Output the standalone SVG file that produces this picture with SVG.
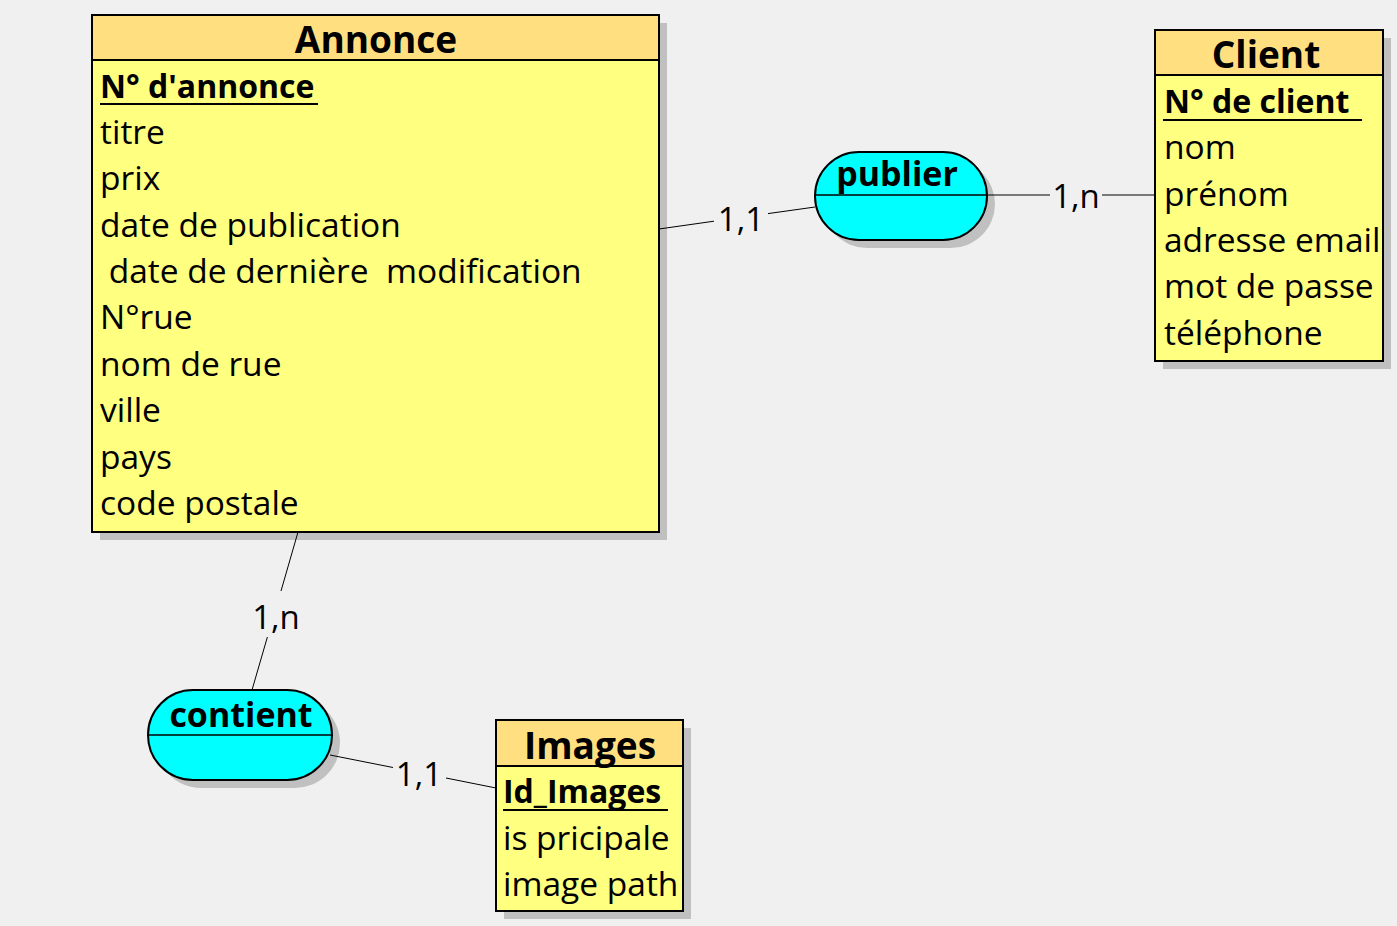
<svg xmlns="http://www.w3.org/2000/svg" width="1397" height="926" viewBox="0 0 1397 926">
<style>
.bg{fill:#f0f0f0}
.shadow{fill:#c0c0c0}
.hdr{fill:#ffdf80;stroke:#000;stroke-width:2}
.body{fill:#ffff80;stroke:#000;stroke-width:2}
.rel{fill:#00ffff;stroke:#000;stroke-width:2}
.div{stroke:#000;stroke-width:1.5}
.title{font-family:"Open Sans","DejaVu Sans",sans-serif;font-weight:bold;font-size:37px;fill:#000;text-anchor:middle}
.rtitle{font-family:"Open Sans","DejaVu Sans",sans-serif;font-weight:bold;font-size:34px;fill:#000;text-anchor:middle}
.key{font-family:"Open Sans","DejaVu Sans",sans-serif;font-weight:bold;font-size:32px;fill:#000}
.attr{font-family:"Open Sans","DejaVu Sans",sans-serif;font-size:33.5px;fill:#000}
.card{font-family:"Open Sans","DejaVu Sans",sans-serif;font-size:33px;fill:#000;text-anchor:middle}
.conn{stroke:#000;stroke-width:1;fill:none}
.ul{stroke:#000;stroke-width:2}
</style>
<rect class="bg" x="0" y="0" width="1397" height="926"/>

<g id="annonce">
<rect class="shadow" x="100" y="23" width="567" height="517"/>
<rect class="body" x="92" y="15" width="567" height="517"/>
<rect class="hdr" x="92" y="15" width="567" height="45"/>
<text class="title" x="376" y="53">Annonce</text>
<text class="key" x="100" y="98">N° d'annonce</text>
<line class="ul" x1="100" y1="104" x2="318" y2="104"/>
<text class="attr" x="100" y="144">titre</text>
<text class="attr" x="100" y="190">prix</text>
<text class="attr" x="100" y="237">date de publication</text>
<text class="attr" x="100" y="283" xml:space="preserve"> date de dernière  modification</text>
<text class="attr" x="100" y="329">N°rue</text>
<text class="attr" x="100" y="376">nom de rue</text>
<text class="attr" x="100" y="422">ville</text>
<text class="attr" x="100" y="469">pays</text>
<text class="attr" x="100" y="515">code postale</text>
</g>

<g id="client">
<rect class="shadow" x="1163" y="38" width="228" height="331"/>
<rect class="body" x="1155" y="30" width="228" height="331"/>
<rect class="hdr" x="1155" y="30" width="228" height="45"/>
<text class="title" x="1266" y="68">Client</text>
<text class="key" x="1164" y="113">N° de client</text>
<line class="ul" x1="1163" y1="120" x2="1362" y2="120"/>
<text class="attr" x="1164" y="159">nom</text>
<text class="attr" x="1164" y="206">prénom</text>
<text class="attr" x="1164" y="252">adresse email</text>
<text class="attr" x="1164" y="298">mot de passe</text>
<text class="attr" x="1164" y="345">téléphone</text>
</g>

<g id="images">
<rect class="shadow" x="504" y="728" width="187" height="191"/>
<rect class="body" x="496" y="720" width="187" height="191"/>
<rect class="hdr" x="496" y="720" width="187" height="46"/>
<text class="title" x="590" y="759">Images</text>
<text class="key" x="503" y="803">Id_Images</text>
<line class="ul" x1="503" y1="810" x2="668" y2="810"/>
<text class="attr" x="503" y="850">is pricipale</text>
<text class="attr" x="503" y="896">image path</text>
</g>

<g id="publier">
<rect class="shadow" x="823" y="160" width="172" height="88" rx="44" ry="44"/>
<rect class="rel" x="815" y="152" width="172" height="88" rx="44" ry="44"/>
<line class="div" x1="815" y1="195" x2="987" y2="195"/>
<text class="rtitle" x="897" y="186">publier</text>
</g>

<g id="contient">
<rect class="shadow" x="156" y="698" width="184" height="90" rx="45" ry="45"/>
<rect class="rel" x="148" y="690" width="184" height="90" rx="45" ry="45"/>
<line class="div" x1="148" y1="735" x2="332" y2="735"/>
<text class="rtitle" x="241" y="727">contient</text>
</g>

<g id="connectors">
<line class="conn" x1="659" y1="229" x2="714" y2="221.2"/>
<line class="conn" x1="768" y1="213.6" x2="815" y2="207"/>
<text class="card" x="741" y="231">1,1</text>
<line class="conn" x1="987" y1="195" x2="1050" y2="195"/>
<line class="conn" x1="1102" y1="195" x2="1155" y2="195"/>
<text class="card" x="1076" y="208">1,n</text>
<line class="conn" x1="298" y1="532" x2="281" y2="591"/>
<line class="conn" x1="267.4" y1="637" x2="252" y2="690"/>
<text class="card" x="276" y="629">1,n</text>
<line class="conn" x1="330" y1="755" x2="393" y2="767.5"/>
<line class="conn" x1="446" y1="778" x2="496" y2="788"/>
<text class="card" x="419" y="786">1,1</text>
</g>
</svg>
